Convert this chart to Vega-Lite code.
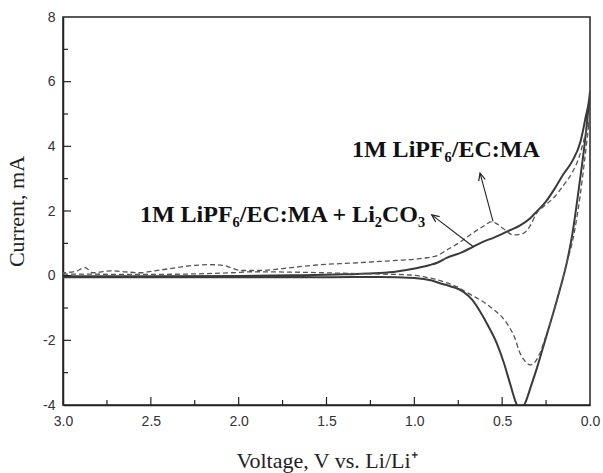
{
  "$schema": "https://vega.github.io/schema/vega-lite/v6.json",
  "width": 527,
  "height": 388,
  "autosize": {"type": "none"},
  "padding": {"left": 63, "top": 17, "right": 13, "bottom": 68},
  "background": "white",
  "config": {
    "view": {"stroke": "#222", "strokeWidth": 1.5},
    "axis": {
      "grid": false,
      "ticks": false,
      "domainColor": "#222",
      "domainWidth": 1.5,
      "labelFont": "Liberation Sans",
      "labelFontSize": 14,
      "labelColor": "#333",
      "labelOverlap": false,
      "labelFlush": false,
      "titleFont": "Liberation Serif",
      "titleFontSize": 22,
      "titleFontWeight": "normal",
      "titleColor": "#222"
    }
  },
  "datasets": {
    "curves": [
      {"series": "with", "order": 1, "voltage": 3.0, "current": -0.05},
      {"series": "with", "order": 2, "voltage": 2.5, "current": -0.05},
      {"series": "with", "order": 3, "voltage": 2.0, "current": -0.05},
      {"series": "with", "order": 4, "voltage": 1.5, "current": -0.05},
      {"series": "with", "order": 5, "voltage": 1.2, "current": -0.04},
      {"series": "with", "order": 6, "voltage": 1.0, "current": -0.07},
      {"series": "with", "order": 7, "voltage": 0.9, "current": -0.15},
      {"series": "with", "order": 8, "voltage": 0.85, "current": -0.24},
      {"series": "with", "order": 9, "voltage": 0.8, "current": -0.32},
      {"series": "with", "order": 10, "voltage": 0.72, "current": -0.5},
      {"series": "with", "order": 11, "voltage": 0.67, "current": -0.75},
      {"series": "with", "order": 12, "voltage": 0.63, "current": -1.07},
      {"series": "with", "order": 13, "voltage": 0.58, "current": -1.55},
      {"series": "with", "order": 14, "voltage": 0.53, "current": -2.1},
      {"series": "with", "order": 15, "voltage": 0.49, "current": -2.7},
      {"series": "with", "order": 16, "voltage": 0.455, "current": -3.34},
      {"series": "with", "order": 17, "voltage": 0.42, "current": -3.95},
      {"series": "with", "order": 18, "voltage": 0.4, "current": -4.15},
      {"series": "with", "order": 19, "voltage": 0.37, "current": -3.95},
      {"series": "with", "order": 20, "voltage": 0.335, "current": -3.4},
      {"series": "with", "order": 21, "voltage": 0.3, "current": -2.82},
      {"series": "with", "order": 22, "voltage": 0.25, "current": -1.9},
      {"series": "with", "order": 23, "voltage": 0.21, "current": -1.17},
      {"series": "with", "order": 24, "voltage": 0.17, "current": -0.4},
      {"series": "with", "order": 25, "voltage": 0.133, "current": 0.38},
      {"series": "with", "order": 26, "voltage": 0.1, "current": 1.3},
      {"series": "with", "order": 27, "voltage": 0.057, "current": 2.96},
      {"series": "with", "order": 28, "voltage": 0.03, "current": 4.1},
      {"series": "with", "order": 29, "voltage": 0.0, "current": 5.7},
      {"series": "with", "order": 30, "voltage": 0.025, "current": 4.9},
      {"series": "with", "order": 31, "voltage": 0.054, "current": 4.15},
      {"series": "with", "order": 32, "voltage": 0.1, "current": 3.55},
      {"series": "with", "order": 33, "voltage": 0.15, "current": 3.15},
      {"series": "with", "order": 34, "voltage": 0.2, "current": 2.7},
      {"series": "with", "order": 35, "voltage": 0.25, "current": 2.3},
      {"series": "with", "order": 36, "voltage": 0.3, "current": 2.0},
      {"series": "with", "order": 37, "voltage": 0.342, "current": 1.77},
      {"series": "with", "order": 38, "voltage": 0.4, "current": 1.55},
      {"series": "with", "order": 39, "voltage": 0.45, "current": 1.42},
      {"series": "with", "order": 40, "voltage": 0.494, "current": 1.31},
      {"series": "with", "order": 41, "voltage": 0.55, "current": 1.17},
      {"series": "with", "order": 42, "voltage": 0.6, "current": 1.07},
      {"series": "with", "order": 43, "voltage": 0.664, "current": 0.9},
      {"series": "with", "order": 44, "voltage": 0.73, "current": 0.72},
      {"series": "with", "order": 45, "voltage": 0.816, "current": 0.55},
      {"series": "with", "order": 46, "voltage": 0.87, "current": 0.4},
      {"series": "with", "order": 47, "voltage": 0.911, "current": 0.33},
      {"series": "with", "order": 48, "voltage": 0.99, "current": 0.23},
      {"series": "with", "order": 49, "voltage": 1.1, "current": 0.13},
      {"series": "with", "order": 50, "voltage": 1.2, "current": 0.08},
      {"series": "with", "order": 51, "voltage": 1.4, "current": 0.04},
      {"series": "with", "order": 52, "voltage": 1.7, "current": 0.01},
      {"series": "with", "order": 53, "voltage": 2.0, "current": -0.01},
      {"series": "with", "order": 54, "voltage": 2.5, "current": -0.02},
      {"series": "with", "order": 55, "voltage": 3.0, "current": -0.02},

      {"series": "without", "order": 1, "voltage": 3.0, "current": 0.05},
      {"series": "without", "order": 2, "voltage": 2.5, "current": 0.04},
      {"series": "without", "order": 3, "voltage": 2.0, "current": 0.1},
      {"series": "without", "order": 4, "voltage": 1.93, "current": 0.12},
      {"series": "without", "order": 5, "voltage": 1.6, "current": 0.1},
      {"series": "without", "order": 6, "voltage": 1.37, "current": 0.07},
      {"series": "without", "order": 7, "voltage": 1.2, "current": 0.05},
      {"series": "without", "order": 8, "voltage": 1.02, "current": 0.02},
      {"series": "without", "order": 9, "voltage": 0.95, "current": -0.03},
      {"series": "without", "order": 10, "voltage": 0.87, "current": -0.13},
      {"series": "without", "order": 11, "voltage": 0.76, "current": -0.34},
      {"series": "without", "order": 12, "voltage": 0.674, "current": -0.6},
      {"series": "without", "order": 13, "voltage": 0.569, "current": -0.96},
      {"series": "without", "order": 14, "voltage": 0.474, "current": -1.47},
      {"series": "without", "order": 15, "voltage": 0.43, "current": -1.9},
      {"series": "without", "order": 16, "voltage": 0.398, "current": -2.4},
      {"series": "without", "order": 17, "voltage": 0.36, "current": -2.7},
      {"series": "without", "order": 18, "voltage": 0.342, "current": -2.76},
      {"series": "without", "order": 19, "voltage": 0.31, "current": -2.65},
      {"series": "without", "order": 20, "voltage": 0.285, "current": -2.4},
      {"series": "without", "order": 21, "voltage": 0.25, "current": -1.85},
      {"series": "without", "order": 22, "voltage": 0.209, "current": -1.17},
      {"series": "without", "order": 23, "voltage": 0.17, "current": -0.4},
      {"series": "without", "order": 24, "voltage": 0.133, "current": 0.38},
      {"series": "without", "order": 25, "voltage": 0.1, "current": 1.05},
      {"series": "without", "order": 26, "voltage": 0.057, "current": 2.44},
      {"series": "without", "order": 27, "voltage": 0.03, "current": 3.6},
      {"series": "without", "order": 28, "voltage": 0.0, "current": 5.0},
      {"series": "without", "order": 29, "voltage": 0.03, "current": 4.3},
      {"series": "without", "order": 30, "voltage": 0.06, "current": 3.7},
      {"series": "without", "order": 31, "voltage": 0.1, "current": 3.2},
      {"series": "without", "order": 32, "voltage": 0.15, "current": 2.8},
      {"series": "without", "order": 33, "voltage": 0.2, "current": 2.45},
      {"series": "without", "order": 34, "voltage": 0.266, "current": 2.13},
      {"series": "without", "order": 35, "voltage": 0.304, "current": 1.93},
      {"series": "without", "order": 36, "voltage": 0.34, "current": 1.55},
      {"series": "without", "order": 37, "voltage": 0.38, "current": 1.31},
      {"series": "without", "order": 38, "voltage": 0.437, "current": 1.26},
      {"series": "without", "order": 39, "voltage": 0.494, "current": 1.46},
      {"series": "without", "order": 40, "voltage": 0.53, "current": 1.6},
      {"series": "without", "order": 41, "voltage": 0.56, "current": 1.67},
      {"series": "without", "order": 42, "voltage": 0.6, "current": 1.55},
      {"series": "without", "order": 43, "voltage": 0.683, "current": 1.26},
      {"series": "without", "order": 44, "voltage": 0.75, "current": 1.0},
      {"series": "without", "order": 45, "voltage": 0.816, "current": 0.79},
      {"series": "without", "order": 46, "voltage": 0.87, "current": 0.62},
      {"series": "without", "order": 47, "voltage": 0.949, "current": 0.54},
      {"series": "without", "order": 48, "voltage": 1.1, "current": 0.47},
      {"series": "without", "order": 49, "voltage": 1.2, "current": 0.44},
      {"series": "without", "order": 50, "voltage": 1.35, "current": 0.39},
      {"series": "without", "order": 51, "voltage": 1.556, "current": 0.33},
      {"series": "without", "order": 52, "voltage": 1.75, "current": 0.22},
      {"series": "without", "order": 53, "voltage": 1.88, "current": 0.16},
      {"series": "without", "order": 54, "voltage": 1.99, "current": 0.16},
      {"series": "without", "order": 55, "voltage": 2.05, "current": 0.26},
      {"series": "without", "order": 56, "voltage": 2.09, "current": 0.32},
      {"series": "without", "order": 57, "voltage": 2.163, "current": 0.34},
      {"series": "without", "order": 58, "voltage": 2.25, "current": 0.32},
      {"series": "without", "order": 59, "voltage": 2.39, "current": 0.22},
      {"series": "without", "order": 60, "voltage": 2.5, "current": 0.13},
      {"series": "without", "order": 61, "voltage": 2.56, "current": 0.09},
      {"series": "without", "order": 62, "voltage": 2.65, "current": 0.12},
      {"series": "without", "order": 63, "voltage": 2.73, "current": 0.15},
      {"series": "without", "order": 64, "voltage": 2.83, "current": 0.09},
      {"series": "without", "order": 65, "voltage": 2.875, "current": 0.25},
      {"series": "without", "order": 66, "voltage": 2.92, "current": 0.15},
      {"series": "without", "order": 67, "voltage": 3.0, "current": 0.09}
    ],
    "xticks": [
      {"voltage": 0.25, "kind": "minor"},
      {"voltage": 0.5, "kind": "major"},
      {"voltage": 0.75, "kind": "minor"},
      {"voltage": 1.0, "kind": "major"},
      {"voltage": 1.25, "kind": "minor"},
      {"voltage": 1.5, "kind": "major"},
      {"voltage": 1.75, "kind": "minor"},
      {"voltage": 2.0, "kind": "major"},
      {"voltage": 2.25, "kind": "minor"},
      {"voltage": 2.5, "kind": "major"},
      {"voltage": 2.75, "kind": "minor"}
    ],
    "yticks": [
      {"current": -3, "kind": "minor"},
      {"current": -2, "kind": "major"},
      {"current": -1, "kind": "minor"},
      {"current": 0, "kind": "major"},
      {"current": 1, "kind": "minor"},
      {"current": 2, "kind": "major"},
      {"current": 3, "kind": "minor"},
      {"current": 4, "kind": "major"},
      {"current": 5, "kind": "minor"},
      {"current": 6, "kind": "major"},
      {"current": 7, "kind": "minor"}
    ],
    "labels": [
      {"label": "1M LiPF₆/EC:MA", "voltage": 1.355, "current": 3.67},
      {"label": "1M LiPF₆/EC:MA + Li₂CO₃", "voltage": 2.562, "current": 1.67}
    ],
    "arrows": [
      {"arrow": "a", "voltage": 0.552, "current": 1.68, "voltage2": 0.626, "current2": 3.17},
      {"arrow": "b", "voltage": 0.664, "current": 0.895, "voltage2": 0.901, "current2": 1.88}
    ]
  },
  "layer": [
    {
      "data": {"name": "curves"},
      "transform": [{"filter": "datum.series === 'with'"}],
      "mark": {"type": "line", "clip": true, "color": "#3a3a3a", "strokeWidth": 2, "interpolate": "monotone"},
      "encoding": {
        "x": {
          "field": "voltage", "type": "quantitative",
          "scale": {"domain": [0, 3], "reverse": true, "nice": false, "zero": false},
          "axis": {
            "title": "Voltage, V vs. Li/Li⁺",
            "values": [0, 0.5, 1, 1.5, 2, 2.5, 3],
            "format": ".1f",
            "labelPadding": 9,
            "titleBaseline": "alphabetic",
            "titleY": 62
          }
        },
        "y": {
          "field": "current", "type": "quantitative",
          "scale": {"domain": [-4, 8], "nice": false, "zero": false},
          "axis": {
            "title": "Current, mA",
            "values": [-4, -2, 0, 2, 4, 6, 8],
            "labelExpr": "'' + datum.value",
            "labelPadding": 8,
            "titleX": -35,
            "titleY": 194
          }
        },
        "order": {"field": "order", "type": "quantitative"}
      }
    },
    {
      "data": {"name": "curves"},
      "transform": [{"filter": "datum.series === 'without'"}],
      "mark": {"type": "line", "clip": true, "color": "#555", "strokeWidth": 1.3, "strokeDash": [5, 3], "interpolate": "monotone"},
      "encoding": {
        "x": {"field": "voltage", "type": "quantitative"},
        "y": {"field": "current", "type": "quantitative"},
        "order": {"field": "order", "type": "quantitative"}
      }
    },
    {
      "data": {"name": "xticks"},
      "mark": {"type": "point", "shape": "M 0 0 L 0 -2", "filled": false, "stroke": "#222", "strokeWidth": 1.2, "opacity": 1},
      "encoding": {
        "x": {"field": "voltage", "type": "quantitative"},
        "y": {"datum": -4, "type": "quantitative"},
        "size": {"field": "kind", "type": "nominal", "scale": {"domain": ["major", "minor"], "range": [64, 25]}, "legend": null}
      }
    },
    {
      "data": {"name": "yticks"},
      "mark": {"type": "point", "shape": "M 0 0 L 2 0", "filled": false, "stroke": "#222", "strokeWidth": 1.2, "opacity": 1},
      "encoding": {
        "x": {"datum": 3, "type": "quantitative"},
        "y": {"field": "current", "type": "quantitative"},
        "size": {"field": "kind", "type": "nominal", "scale": {"domain": ["major", "minor"], "range": [64, 25]}, "legend": null}
      }
    },
    {
      "data": {"name": "arrows"},
      "mark": {"type": "rule", "color": "#222", "strokeWidth": 1.1},
      "encoding": {
        "x": {"field": "voltage", "type": "quantitative"},
        "y": {"field": "current", "type": "quantitative"},
        "x2": {"field": "voltage2"},
        "y2": {"field": "current2"}
      }
    },
    {
      "data": {"name": "arrows"},
      "transform": [{"filter": "datum.arrow === 'a'"}],
      "mark": {"type": "point", "shape": "M -0.45 1 L 0 0 L 0.45 1", "filled": false, "stroke": "#222", "strokeWidth": 1.2, "opacity": 1, "size": 220, "angle": 345},
      "encoding": {
        "x": {"field": "voltage2", "type": "quantitative"},
        "y": {"field": "current2", "type": "quantitative"}
      }
    },
    {
      "data": {"name": "arrows"},
      "transform": [{"filter": "datum.arrow === 'b'"}],
      "mark": {"type": "point", "shape": "M -0.45 1 L 0 0 L 0.45 1", "filled": false, "stroke": "#222", "strokeWidth": 1.2, "opacity": 1, "size": 220, "angle": 307},
      "encoding": {
        "x": {"field": "voltage2", "type": "quantitative"},
        "y": {"field": "current2", "type": "quantitative"}
      }
    },
    {
      "data": {"name": "labels"},
      "mark": {"type": "text", "align": "left", "baseline": "alphabetic", "font": "Liberation Serif", "fontSize": 24, "fontWeight": "bold", "color": "#111"},
      "encoding": {
        "x": {"field": "voltage", "type": "quantitative"},
        "y": {"field": "current", "type": "quantitative"},
        "text": {"field": "label"}
      }
    }
  ]
}
